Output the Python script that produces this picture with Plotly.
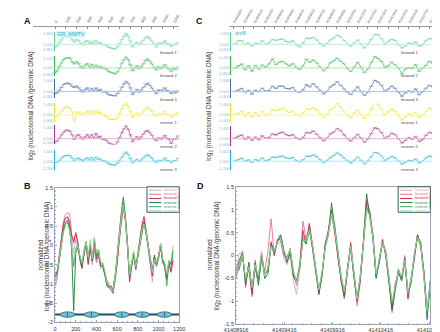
import plotly.graph_objects as go

W, H = 440, 332
def X(px): return px / W
def Y(py): return 1 - py / H

# ---------------- data ----------------
series_names = ["forward 1", "forward 2", "forward 3", "reverse 1", "reverse 2", "reverse 3"]

# GR_MMTV probe positions (bp) and normalized log2 ratios (panel B / A)
mmtv_pos = list(range(0, 1141, 20))
b_f1 = [-0.95,-0.80,-0.30,0.10,0.50,0.70,0.72,0.55,0.10,-0.20,
        0.15,0.00,-0.40,-0.60,-0.15,0.00,-0.45,-0.10,-0.50,0.00,
        -0.40,-0.30,-0.60,-0.55,-0.75,-1.00,-1.10,-1.15,-1.25,-0.90,
        -0.40,0.20,0.70,1.05,0.65,-0.05,-0.90,-0.55,-0.25,-0.65,
        -0.35,0.05,0.40,0.60,0.30,-0.05,-0.50,-0.95,-0.35,-0.55,
        -0.30,0.00,-0.45,-0.55,-0.85,-0.50,-0.60,-0.30]
b_f2 = [-1.05,-0.85,-0.25,0.20,0.60,0.80,0.85,0.82,0.30,0.05,
        0.35,0.10,-0.30,-0.50,-0.10,0.10,-0.40,0.00,-0.45,-0.10,
        -0.45,-0.25,-0.50,-0.45,-0.65,-0.90,-1.00,-1.10,-1.20,-0.95,
        -0.50,0.15,0.60,0.95,0.60,-0.05,-0.80,-0.45,-0.15,-0.55,
        -0.30,0.05,0.50,0.65,0.40,0.05,-0.40,-0.70,-0.30,-0.55,
        -0.35,-0.05,-0.40,-0.60,-0.90,-0.45,-0.65,-0.35]
b_f3 = [-0.80,-0.70,-0.30,0.10,0.55,0.70,0.75,0.60,0.25,0.10,
        0.30,0.05,-0.35,-0.60,-0.20,0.05,-0.50,-0.05,-0.40,0.05,
        -0.35,-0.20,-0.55,-0.50,-0.70,-0.95,-1.05,-1.10,-1.15,-0.80,
        -0.45,0.10,0.65,1.00,0.70,0.05,-0.95,-0.55,-0.20,-0.60,
        -0.25,0.15,0.55,0.75,0.40,0.00,-0.45,-0.80,-0.25,-0.50,
        -0.25,0.05,-0.35,-0.50,-0.80,-0.45,-0.70,-0.40]
b_r1 = [-0.75,-0.70,-0.40,0.00,0.40,0.60,0.65,0.45,-0.10,-1.70,
        -0.20,-0.05,-0.30,-0.55,-0.25,0.10,-0.30,0.00,-0.40,0.15,
        -0.25,-0.10,-0.50,-0.55,-0.75,-1.05,-1.10,-1.05,-1.15,-0.80,
        -0.25,0.35,0.85,1.25,0.75,0.05,-0.80,-0.45,-0.25,-0.60,
        -0.30,0.10,0.40,0.60,0.30,0.00,-0.40,-0.65,-0.30,-0.45,
        -0.30,0.00,-0.45,-0.50,-0.85,-0.40,-0.50,-0.15]
b_r2 = [-0.85,-0.75,-0.40,0.00,0.35,0.55,0.60,0.45,0.00,-0.55,
        -0.10,0.05,-0.30,-0.50,-0.20,0.05,-0.35,0.05,-0.40,0.20,
        -0.30,-0.15,-0.55,-0.50,-0.70,-1.00,-1.10,-1.15,-1.25,-0.85,
        -0.30,0.30,0.75,1.10,0.70,0.00,-0.85,-0.50,-0.20,-0.55,
        -0.25,0.10,0.45,0.55,0.30,-0.05,-0.45,-0.70,-0.35,-0.50,
        -0.35,-0.05,-0.40,-0.55,-1.05,-0.45,-0.50,-0.10]
b_r3 = [-0.70,-0.65,-0.35,0.05,0.35,0.45,0.50,0.40,0.05,-0.40,
        -0.10,0.00,-0.25,-0.45,-0.15,0.10,-0.30,0.15,-0.35,0.20,
        -0.20,-0.10,-0.45,-0.45,-0.65,-0.95,-1.05,-1.10,-1.15,-0.80,
        -0.30,0.25,0.70,1.05,0.65,0.00,-0.75,-0.45,-0.15,-0.55,
        -0.30,0.05,0.40,0.55,0.35,0.00,-0.40,-0.70,-0.35,-0.45,
        -0.30,0.05,-0.35,-0.45,-0.75,-0.40,-0.40,0.00]

# dnt8 locus probe positions (genomic bp) and normalized log2 ratios (panel D / C)
d_start = 41408916
d_pos = [d_start + o for o in range(0, 2014, 33)]
d_f1 = [-0.35,0.05,0.05,-0.55,-0.25,-0.75,-0.30,-0.50,0.10,-0.50,
        -0.25,0.20,0.10,0.25,0.30,-0.05,-0.20,0.05,-0.55,-0.85,
        -0.30,0.45,0.35,0.55,0.15,-0.40,-0.75,-0.35,0.15,0.45,
        0.85,0.60,0.05,-0.45,-0.80,-0.25,0.15,-0.45,-1.05,-0.45,
        0.25,0.95,0.95,0.35,-0.50,-0.05,0.25,0.10,-0.55,-1.05,
        -0.75,-0.30,-0.45,-0.15,-0.80,-0.60,0.05,0.35,0.30,-0.45,
        -1.15,-0.55]
d_f2 = [-0.50,-0.15,0.10,-0.70,-0.15,-0.90,-0.10,-0.60,-0.05,-0.35,
        0.10,0.80,0.00,0.35,0.45,0.10,-0.15,0.15,-0.35,-0.65,
        -0.20,0.75,0.35,0.65,0.25,-0.30,-0.85,-0.45,0.25,0.55,
        0.90,0.50,0.10,-0.55,-0.95,-0.35,0.30,-0.35,-1.10,-0.60,
        0.35,1.10,0.85,0.45,-0.40,-0.15,0.35,0.00,-0.45,-1.25,
        -0.60,-0.40,-0.55,0.00,-0.90,-0.50,-0.10,0.45,0.20,-0.35,
        -1.20,-0.70]
d_f3 = [-0.45,-0.25,0.00,-0.55,-0.30,-0.85,-0.25,-0.50,0.05,-0.40,
        -0.35,0.30,0.00,0.35,0.35,0.00,-0.05,0.15,-0.45,-0.55,
        -0.20,0.55,0.25,0.70,0.25,-0.25,-0.80,-0.45,0.25,0.55,
        1.00,0.45,-0.05,-0.55,-0.90,-0.35,0.25,-0.45,-1.00,-0.55,
        0.30,1.20,0.95,0.45,-0.45,-0.10,0.35,0.00,-0.55,-1.15,
        -0.65,-0.35,-0.55,-0.05,-0.95,-0.50,0.05,0.45,0.25,-0.35,
        -1.30,-0.65]
d_r1 = [-0.40,-0.30,0.05,-0.65,-0.15,-0.75,-0.15,-0.65,0.00,-0.50,
        -0.40,0.25,0.10,0.30,0.45,0.10,-0.15,0.05,-0.45,-0.60,
        -0.25,0.35,0.25,0.55,0.20,-0.35,-0.85,-0.40,0.20,0.50,
        1.15,0.60,-0.05,-0.50,-0.90,-0.25,0.20,-0.45,-0.95,-0.45,
        0.30,1.35,0.85,0.35,-0.50,-0.05,0.30,0.05,-0.55,-1.20,
        -0.75,-0.35,-0.50,-0.10,-0.80,-0.55,0.00,0.45,0.20,-0.45,
        -1.40,-0.55]
d_r2 = [-0.35,-0.10,0.05,-0.55,-0.20,-0.70,-0.25,-0.60,-0.05,-0.40,
        -0.30,0.20,0.05,0.30,0.45,0.10,-0.05,0.10,-0.35,-0.55,
        -0.30,0.40,0.30,0.60,0.15,-0.30,-0.75,-0.40,0.20,0.45,
        0.95,0.65,0.05,-0.45,-0.80,-0.35,0.15,-0.35,-0.95,-0.50,
        0.25,1.05,0.90,0.40,-0.45,-0.15,0.30,0.10,-0.45,-1.05,
        -0.70,-0.30,-0.55,-0.15,-0.85,-0.60,0.00,0.40,0.30,-0.40,
        -1.30,-0.55]
d_r3 = [-0.45,-0.25,0.00,-0.50,-0.25,-0.70,-0.20,-0.45,0.05,-0.45,
        -0.25,0.20,0.10,0.30,0.35,0.05,-0.05,0.15,-0.35,-0.60,
        -0.25,0.35,0.30,0.55,0.25,-0.25,-0.75,-0.35,0.15,0.50,
        0.90,0.55,0.05,-0.45,-0.80,-0.30,0.20,-0.35,-0.95,-0.45,
        0.25,1.00,0.85,0.40,-0.40,-0.05,0.30,0.05,-0.45,-1.00,
        -0.65,-0.35,-0.45,-0.10,-0.80,-0.50,0.05,0.40,0.25,-0.40,
        -1.20,-0.60]

# per-track mean (raw log2 = normalized + mean) for panels A and C
a_track_mean = [0.55, 0.45, 0.50, 0.50, 0.45, 0.50]
c_track_mean = [0.50, 0.45, 0.45, 0.50, 0.45, 0.50]

# track axis tick labels
a_track_ticks = [["1.600", "0.000", "-0.800"], ["1.170", "0.000", "-0.800"],
                 ["1.600", "0.000", "-0.800"], ["1.400", "0.000", "-0.800"],
                 ["1.400", "0.000", "-0.500"], ["1.600", "0.000", "-1.200"]]
c_track_ticks = [["1.600", "0.000", "-0.800"], ["1.400", "0.000", "-0.800"],
                 ["1.600", "0.000", "-0.800"], ["1.400", "0.000", "-0.800"],
                 ["1.400", "0.000", "-0.800"], ["1.600", "0.000", "-1.200"]]

a_axis_ticks = [0, 100, 200, 300, 400, 500, 600, 700, 800, 900, 1000, 1100]
c_axis_ticks = list(range(41408900, 41410801, 100))
d_axis_ticks = [41408916, 41409416, 41409916, 41410416, 41410916]

# nucleosome positions on MMTV (bp)
nuc_centers = [120, 352, 645, 842, 1057]

b_series = [b_f1, b_f2, b_f3, b_r1, b_r2, b_r3]
d_series = [d_f1, d_f2, d_f3, d_r1, d_r2, d_r3]
for s in b_series: assert len(s) == len(mmtv_pos)
for s in d_series: assert len(s) == len(d_pos)

# ---------------- styles ----------------
line_colors = ["#d7a2dc", "#ec6f95", "#d4234f", "#1f7a3a", "#3aa55a", "#98d898"]
track_colors = ["#5fcf98", "#33b34d", "#4a6b9c", "#e8e42e", "#a3317c", "#22b3cd"]
track_light = ["#c4f0d9", "#b3e5bc", "#b6c6e2", "#f8f6aa", "#e3b6d3", "#b2e7f1"]
FONT = "Arial, Liberation Sans, sans-serif"
zero_px = [34, 58, 82, 106, 130, 153]
TRACK_H = 20

fig = go.Figure()

def dash_xy(pos, vals, off, half):
    xs, ys = [], []
    for p, v in zip(pos, vals):
        xs += [p - half, p + half, None]
        ys += [v + off, v + off, None]
    return xs, ys

shapes, annotations = [], []
layout = dict(width=W, height=H, margin=dict(l=0, r=0, t=0, b=0),
              paper_bgcolor="white", plot_bgcolor="white", showlegend=False,
              font=dict(family=FONT, size=5, color="#333"))

# ---- panel A and C tracks ----
for panel in ("A", "C"):
    xname = "x" if panel == "A" else "x2"
    series = b_series if panel == "A" else d_series
    pos = mmtv_pos if panel == "A" else d_pos
    means = a_track_mean if panel == "A" else c_track_mean
    ticks = a_track_ticks if panel == "A" else c_track_ticks
    y0idx = 3 if panel == "A" else 9
    ypos_px = 36 if panel == "A" else 222
    x_end_px = 168 if panel == "A" else 440
    half = 22
    for i in range(6):
        yn = y0idx + i
        xs, ys = dash_xy(pos, series[i], means[i], half)
        fig.add_trace(go.Scatter(x=xs, y=ys, mode="lines", xaxis=xname, yaxis=f"y{yn}",
                                 line=dict(color=track_light[i], width=1.3), hoverinfo="skip"))
        fig.add_trace(go.Scatter(x=pos, y=[v + means[i] for v in series[i]], mode="lines",
                                 xaxis=xname, yaxis=f"y{yn}",
                                 line=dict(color=track_colors[i], width=0.7), hoverinfo="skip"))
        tv = [float(t) for t in ticks[i]]
        r0, r1 = min(tv) - 0.2, max(tv) + 0.3
        frac = -r0 / (r1 - r0)
        bottom = zero_px[i] + frac * TRACK_H
        top = bottom - TRACK_H
        layout[f"yaxis{yn}"] = dict(domain=[Y(bottom), Y(top)], range=[r0, r1], anchor="free",
                                    position=X(ypos_px), tickvals=tv, ticktext=ticks[i],
                                    tickfont=dict(size=4, color="#86b9de"), ticks="",
                                    showline=True, linecolor=track_colors[i], linewidth=1,
                                    showgrid=False, zeroline=False)
        shapes.append(dict(type="line", xref="paper", yref=f"y{yn}", x0=X(ypos_px), x1=X(x_end_px),
                           y0=0, y1=0, line=dict(color=track_light[i], width=1)))
        annotations.append(dict(text=series_names[i], x=X(168 if panel == "A" else 422),
                                y=Y(zero_px[i] + 8), xref="paper", yref="paper",
                                xanchor="right", yanchor="middle", showarrow=False,
                                font=dict(size=4, color="#444")))

layout["xaxis"] = dict(domain=[X(14), X(168)], range=[-202, 1153], anchor="free", position=Y(15),
                       side="top", tickvals=a_axis_ticks, ticktext=[str(t) for t in a_axis_ticks],
                       tickangle=-60, tickfont=dict(size=4, color="#555"), ticks="inside",
                       ticklen=2, tickcolor="#888", showline=True, linecolor="#999", linewidth=1,
                       showgrid=False, zeroline=False)
layout["xaxis2"] = dict(domain=[X(220), X(440)], range=[41408854, 41410872], anchor="free",
                        position=Y(15), side="top", tickvals=c_axis_ticks,
                        ticktext=[str(t) for t in c_axis_ticks], tickangle=-60,
                        tickfont=dict(size=3.5, color="#666"), ticks="inside", ticklen=2,
                        tickcolor="#888", showline=True, linecolor="#999", linewidth=1,
                        showgrid=False, zeroline=False)

# ---- panel B ----
for name, col, vals in zip(series_names, line_colors, b_series):
    fig.add_trace(go.Scatter(x=mmtv_pos, y=vals, mode="lines", name=name, xaxis="x3", yaxis="y",
                             line=dict(color=col, width=0.9)))
# ---- panel D ----
for name, col, vals in zip(series_names, line_colors, d_series):
    fig.add_trace(go.Scatter(x=d_pos, y=vals, mode="lines", name=name, xaxis="x4", yaxis="y2",
                             line=dict(color=col, width=0.9)))

frame = "#9aa3b5"
common = dict(ticks="inside", ticklen=2, tickcolor=frame, showline=True, mirror=True,
              linecolor=frame, linewidth=1, showgrid=False, zeroline=False,
              tickfont=dict(size=5.5, color="#333"))
layout["xaxis3"] = dict(domain=[X(37), X(168)], range=[0, 1200], anchor="y", dtick=200,
                        minor=dict(ticks="inside", ticklen=1, dtick=50, tickcolor=frame),
                        ticklabelstandoff=1, **common)
b_yt = [-2, -1.5, -1, -0.5, 0, 0.5, 1, 1.5]
layout["yaxis"] = dict(domain=[Y(317), Y(180)], range=[-2, 1.5], anchor="x3", tickvals=b_yt,
                       ticktext=[f"{v:g}" for v in b_yt],
                       minor=dict(ticks="inside", ticklen=1, dtick=0.1, tickcolor=frame), **common)
layout["xaxis4"] = dict(domain=[X(228), X(433)], range=[41408916, 41410930], anchor="y2",
                        tickvals=d_axis_ticks, ticktext=[str(t) for t in d_axis_ticks],
                        ticklabelstandoff=0,
                        minor=dict(ticks="inside", ticklen=1, dtick=100, tickcolor=frame), **common)
d_yt = [-1.5, -1, -0.5, 0, 0.5, 1, 1.5]
layout["yaxis2"] = dict(domain=[Y(319), Y(179)], range=[-1.5, 1.5], anchor="x4", tickvals=d_yt,
                        ticktext=[f"{v:g}" for v in d_yt],
                        minor=dict(ticks="inside", ticklen=1, dtick=0.1, tickcolor=frame), **common)

# nucleosomes in B
shapes.append(dict(type="line", xref="x3", yref="y", x0=0, x1=1200, y0=-1.8, y1=-1.8,
                   line=dict(color="#1d5058", width=2), layer="above"))
for c in nuc_centers:
    shapes.append(dict(type="circle", xref="x3", yref="y", x0=c - 70, x1=c + 70, y0=-1.87, y1=-1.73,
                       fillcolor="#6cc8d8", line=dict(color="#1d5058", width=0.8), layer="above"))
    shapes.append(dict(type="line", xref="x3", yref="y", x0=c, x1=c, y0=-1.85, y1=-1.75,
                       line=dict(color="#1d5058", width=0.8), layer="above"))

# legends drawn in B and D
for lx in (135, 400):
    shapes.append(dict(type="rect", xref="paper", yref="paper", x0=X(lx - 1), x1=X(lx + 33),
                       y0=Y(179), y1=Y(205), line=dict(color="#2f5f63", width=1),
                       fillcolor="white", layer="above"))
    for i, (name, col) in enumerate(zip(series_names, line_colors)):
        yy = 182.5 + 4.2 * i
        shapes.append(dict(type="line", xref="paper", yref="paper", x0=X(lx + 1), x1=X(lx + 14),
                           y0=Y(yy), y1=Y(yy), line=dict(color=col, width=1), layer="above"))
        annotations.append(dict(text=name, x=X(lx + 15), y=Y(yy), xref="paper", yref="paper",
                                xanchor="left", yanchor="middle", showarrow=False,
                                font=dict(size=3.8, color=col)))

# panel letters
for t, px, py in (("A", 2, 3), ("C", 184, 3), ("B", 2, 171), ("D", 185, 171)):
    annotations.append(dict(text=f"<b>{t}</b>", x=X(px), y=Y(py), xref="paper", yref="paper",
                            xanchor="left", yanchor="top", showarrow=False,
                            font=dict(size=9, color="#111")))

ytitle = "log<sub>2</sub> (nucleosomal DNA /genomic DNA)"
rot = []
for px, py in ((12, 97), (200, 97), (29, 250), (208, 250)):
    rot.append((ytitle, px, py))
for px, py in ((22, 248), (200, 248)):
    rot.append(("normalized", px, py))
for txt, px, py in rot:
    annotations.append(dict(text=txt, x=X(px), y=Y(py), xref="paper", yref="paper",
                            xanchor="center", yanchor="middle", textangle=-90, showarrow=False,
                            font=dict(size=6.3, color="#333")))

# gene labels
annotations.append(dict(text="GR_MMTV", x=X(38), y=Y(23), xref="paper", yref="paper",
                        xanchor="left", yanchor="middle", showarrow=False, bgcolor="#dff3f8",
                        borderpad=0, font=dict(size=5.5, color="#22b3cd")))
annotations.append(dict(text="dnt8", x=X(225), y=Y(22), xref="paper", yref="paper",
                        xanchor="left", yanchor="middle", showarrow=False,
                        font=dict(size=5.5, color="#22b3cd")))

layout["shapes"] = shapes
layout["annotations"] = annotations
fig.update_layout(**layout)
fig.write_html("out.html")
